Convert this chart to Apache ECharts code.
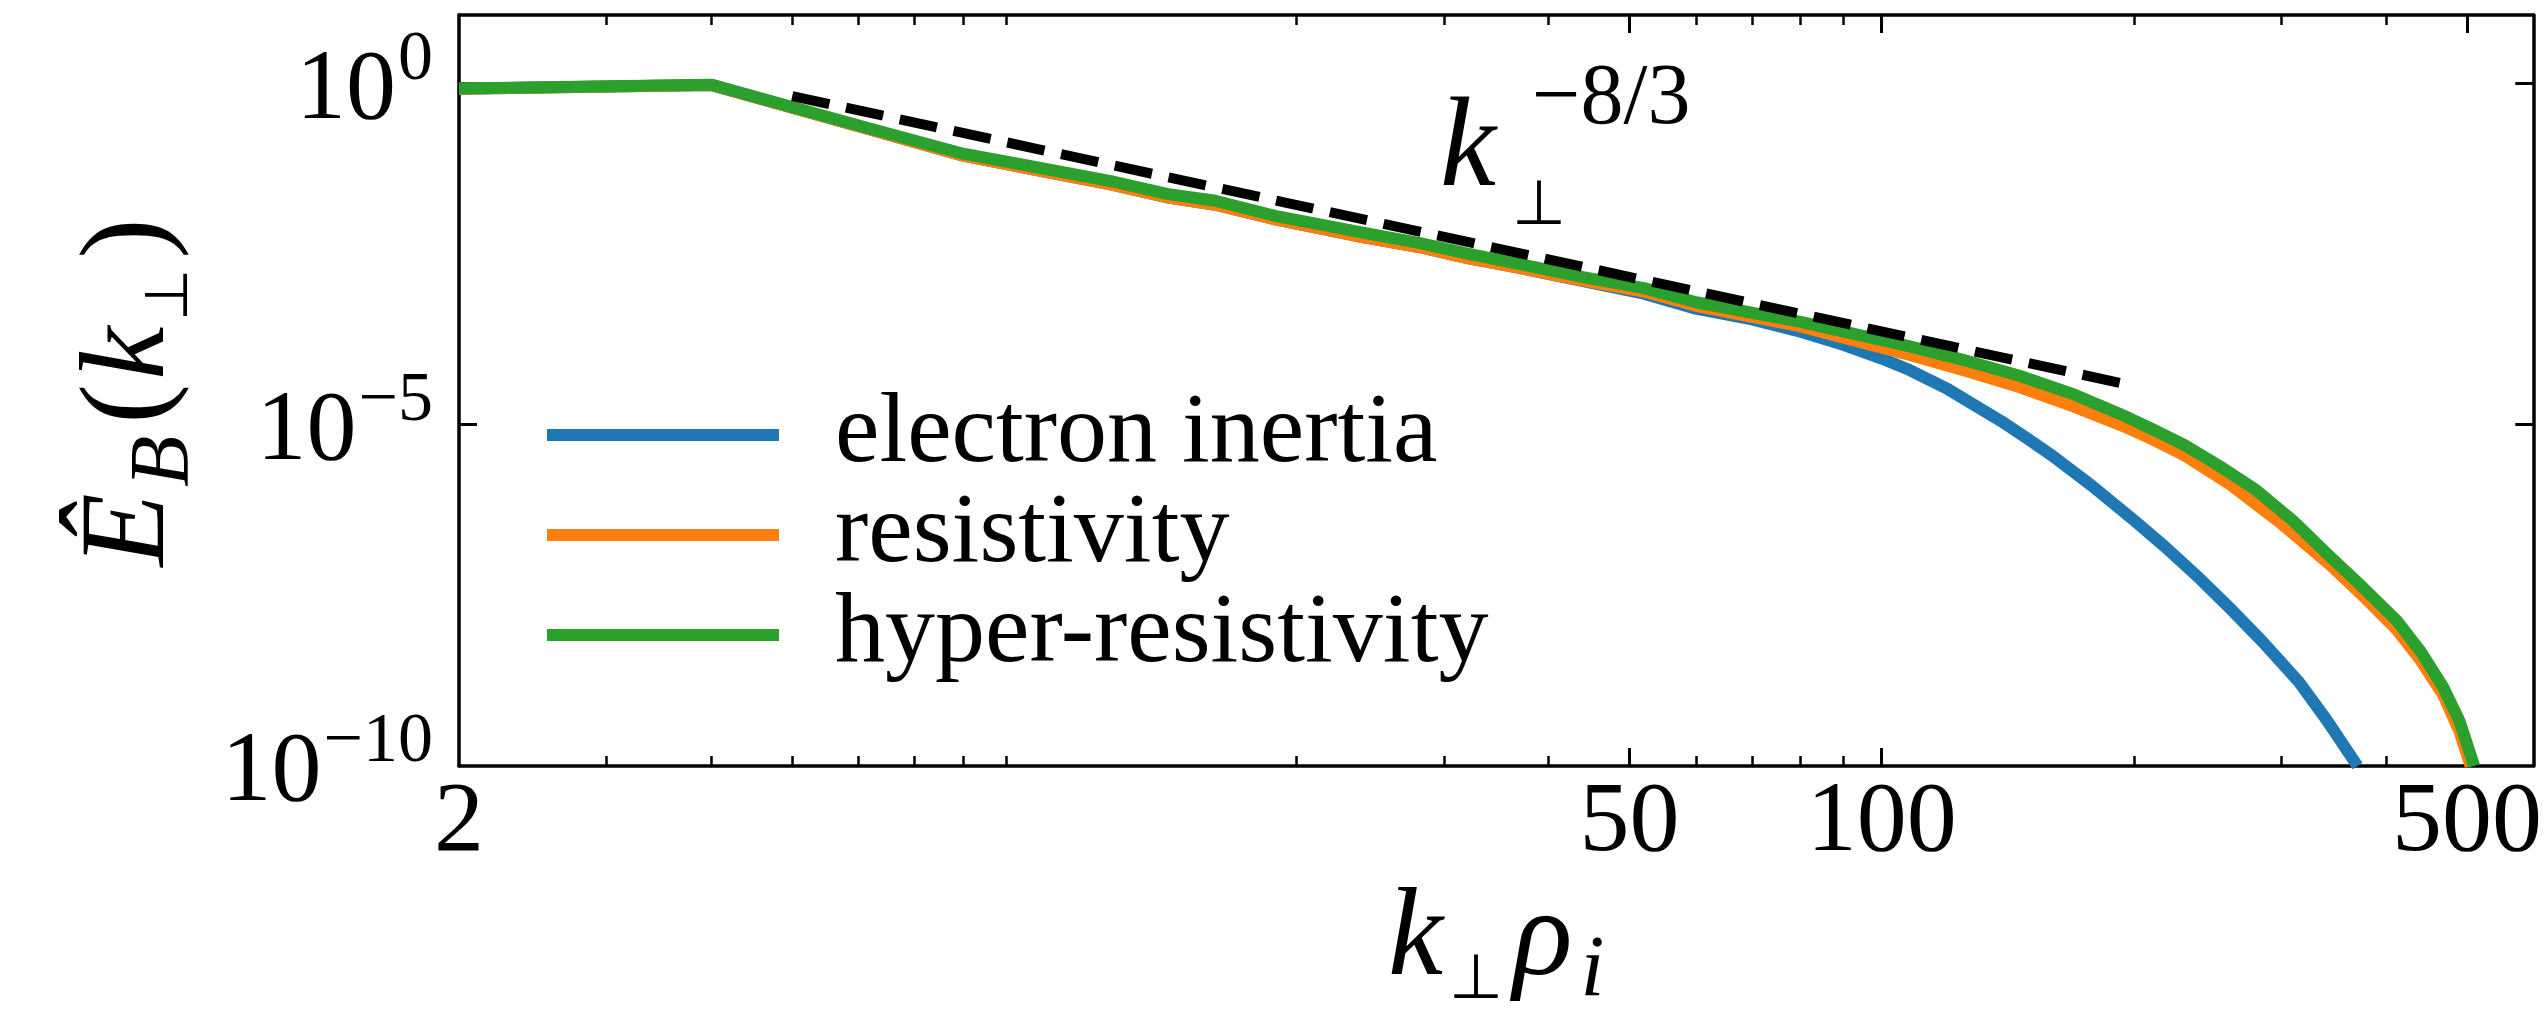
<!DOCTYPE html>
<html><head><meta charset="utf-8">
<script src="https://cdn.jsdelivr.net/npm/echarts@6/dist/echarts.min.js"></script>
<style>html,body{margin:0;padding:0;background:#fff}#c{width:2545px;height:1020px}</style>
</head><body><div id="c"></div>
<script>
// ---- data ----
const seriesNames = ['electron inertia', 'resistivity', 'hyper-resistivity'];
const kInertia = [2,4,6,8,10,12,14,16,19,24,28,32,36,44,52,60,70,80,90,100,108,120,139,150,160,178,200,218,240,261,285,315,340,370];
const eInertia = [0.83,0.945,0.235,0.087,0.051,0.033,0.0214,0.0166,0.010,5.6e-3,4.0e-3,2.75e-3,2.1e-3,1.26e-3,8.3e-4,5.0e-4,3.47e-4,2.29e-4,1.48e-4,9.3e-5,6.3e-5,3.3e-5,1.12e-5,6.0e-6,3.47e-6,1.29e-6,4.0e-7,1.62e-7,5.5e-8,2.0e-8,6.6e-9,1.7e-9,4.7e-10,1.0e-10];
const kResist = [2,4,6,8,10,12,14,16,19,24,28,32,36,44,52,60,80,108,125,146,170,196,210,230,261,300,343,375,412,440,468,490,505];
const eResist = [0.83,0.945,0.235,0.087,0.051,0.033,0.0214,0.0166,0.010,5.6e-3,4.0e-3,2.75e-3,2.1e-3,1.29e-3,8.9e-4,5.5e-4,2.75e-4,1.05e-4,6.3e-5,3.55e-5,1.82e-5,9.1e-6,6.2e-6,3.55e-6,1.32e-6,3.55e-7,8.9e-8,3.16e-8,1.0e-8,3.55e-9,1.12e-9,3.16e-10,1.0e-10];
const kHyper = [2,4,6,8,10,12,14,16,19,24,28,32,36,44,52,60,80,108,125,146,170,196,210,230,255,280,310,343,375,412,440,468,490,510];
const eHyper = [0.84,0.955,0.24,0.093,0.056,0.037,0.024,0.019,0.0112,6.5e-3,4.6e-3,3.2e-3,2.4e-3,1.45e-3,1.0e-3,6.2e-4,3.2e-4,1.4e-4,8.9e-5,5.2e-5,2.75e-5,1.3e-5,8.7e-6,5.0e-6,2.34e-6,1.1e-6,3.9e-7,1.17e-7,4.2e-8,1.35e-8,4.8e-9,1.45e-9,4.5e-10,1.0e-10];
const kFit = [5, 200];
const eFit = [0.65, 3.7e-5];

const xRange = [2, 600];
const yRange = [1e-10, 10];
const xTickLabels = [2, 50, 100, 500];
const xMajorTicks = [50, 100, 500];
const xMinorTicks = [3,4,5,6,7,8,9,20,30,40,50,60,70,80,90,200,300,400,500];
const yTickValues = [1e-10, 1e-5, 1];
const yTickExponents = ['−10', '−5', '0'];
const yMajorTicks = [1e-5, 1];

// ---- chart ----
const FONT = '"Liberation Serif", serif';
const colors = ['#1f77b4', '#ff7f0e', '#2ca02c'];
const pair = (ks, es) => ks.map((k, i) => [k, es[i]]);
const lineAxis = { show: true, onZero: false, lineStyle: { color: '#000', width: 3.5 } };
function xAx(extra) {
  return Object.assign({ type: 'log', logBase: 10, min: xRange[0], max: xRange[1], gridIndex: 0,
    splitLine: { show: false }, minorTick: { show: false }, axisLine: { show: false }, axisLabel: { show: false } }, extra);
}
function yAx(extra) {
  return Object.assign({ type: 'log', logBase: 10, min: yRange[0], max: yRange[1], gridIndex: 0,
    splitLine: { show: false }, minorTick: { show: false }, axisLine: { show: false }, axisLabel: { show: false } }, extra);
}
const majorTick = vals => ({ show: true, inside: true, length: 18, customValues: vals, lineStyle: { color: '#000', width: 3 } });
const minorTick = vals => ({ show: true, inside: true, length: 10, customValues: vals, lineStyle: { color: '#000', width: 2.5 } });

const option = {
  animation: false,
  backgroundColor: '#fff',
  grid: { left: 459, top: 15, width: 2078, height: 766, containLabel: false },
  legend: {
    data: seriesNames, orient: 'vertical', left: 547, top: 385, padding: 0, itemGap: 0,
    icon: 'rect', itemWidth: 232, itemHeight: 12,
    textStyle: { fontFamily: FONT, fontSize: 100, color: '#000', lineHeight: 94, padding: [0, 0, 0, 51] }
  },
  xAxis: [
    xAx({ position: 'bottom', axisLine: lineAxis, axisTick: majorTick(xMajorTicks),
      axisLabel: { show: true, customValues: xTickLabels, margin: 8, fontFamily: FONT, fontSize: 100, color: '#000', lineHeight: 100 },
      name: '{m|k}{s|⊥}{m|ρ}{si|i}', nameLocation: 'middle', nameGap: 113,
      nameTextStyle: { rich: {
        m: { fontFamily: FONT, fontStyle: 'italic', fontSize: 124, color: '#000', verticalAlign: 'top', padding: [0, 6, 0, 0] },
        s: { fontFamily: FONT, fontSize: 62, color: '#000', verticalAlign: 'top', padding: [72, 10, 0, 0] },
        si: { fontFamily: FONT, fontStyle: 'italic', fontSize: 86, color: '#000', verticalAlign: 'top', padding: [50, 0, 0, 2] } } } }),
    xAx({ position: 'bottom', axisTick: minorTick(xMinorTicks) }),
    xAx({ position: 'top', axisLine: lineAxis, axisTick: majorTick(xMajorTicks) }),
    xAx({ position: 'top', axisTick: minorTick(xMinorTicks) })
  ],
  yAxis: [
    yAx({ position: 'left', axisLine: lineAxis, axisTick: majorTick(yMajorTicks),
      axisLabel: { show: true, customValues: yTickValues, margin: 26,
        formatter: v => { const i = yTickValues.findIndex(t => Math.abs(Math.log10(t) - Math.log10(v)) < 1e-6); return '{b|10}{s|' + yTickExponents[i] + '}'; },
        rich: {
          b: { fontFamily: FONT, fontSize: 100, color: '#000', verticalAlign: 'top', padding: [16, 0, 0, 0] },
          s: { fontFamily: FONT, fontSize: 70, color: '#000', verticalAlign: 'top', padding: [0, 0, 0, 2] } } },
      name: '{m|Ê}{sb|B}{r|(}{m|k}{s|⊥}{r|)}', nameLocation: 'middle', nameRotate: 90, nameGap: 251,
      nameTextStyle: { rich: {
        m: { fontFamily: FONT, fontStyle: 'italic', fontSize: 120, color: '#000', verticalAlign: 'top', padding: [0, 6, 0, 0] },
        sb: { fontFamily: FONT, fontStyle: 'italic', fontSize: 84, color: '#000', verticalAlign: 'top', padding: [53, 8, 0, 0] },
        s: { fontFamily: FONT, fontSize: 60, color: '#000', verticalAlign: 'top', padding: [70, 6, 0, 0] },
        r: { fontFamily: FONT, fontSize: 120, color: '#000', verticalAlign: 'top', padding: [0, 4, 0, 4] } } } }),
    yAx({ position: 'right', axisLine: lineAxis, axisTick: majorTick(yMajorTicks) })
  ],
  series: [
    { name: seriesNames[0], type: 'line', data: pair(kInertia, eInertia), symbol: 'none', clip: true,
      lineStyle: { color: colors[0], width: 12, join: 'round' }, itemStyle: { color: colors[0] }, z: 2 },
    { name: seriesNames[1], type: 'line', data: pair(kResist, eResist), symbol: 'none', clip: true,
      lineStyle: { color: colors[1], width: 12, join: 'round' }, itemStyle: { color: colors[1] }, z: 3 },
    { name: seriesNames[2], type: 'line', data: pair(kHyper, eHyper), symbol: 'none', clip: true,
      lineStyle: { color: colors[2], width: 12, join: 'round' }, itemStyle: { color: colors[2] }, z: 4 },
    { name: 'fit', type: 'line', data: pair(kFit, eFit), symbol: 'none', clip: true,
      lineStyle: { color: '#000', width: 10, type: [38, 17] }, z: 5 }
  ],
  graphic: [
    { type: 'text', x: 1440, y: 152, style: { text: 'k', font: 'italic 126px ' + FONT, fill: '#000', align: 'left', verticalAlign: 'middle' } },
    { type: 'text', x: 1512, y: 208, style: { text: '⊥', font: '62px ' + FONT, fill: '#000', align: 'left', verticalAlign: 'middle' } },
    { type: 'text', x: 1532, y: 100, style: { text: '−8/3', font: '86px ' + FONT, fill: '#000', align: 'left', verticalAlign: 'middle' } }
  ]
};
const chart = echarts.init(document.getElementById('c'), null, { renderer: 'canvas' });
chart.setOption(option);
</script></body></html>
